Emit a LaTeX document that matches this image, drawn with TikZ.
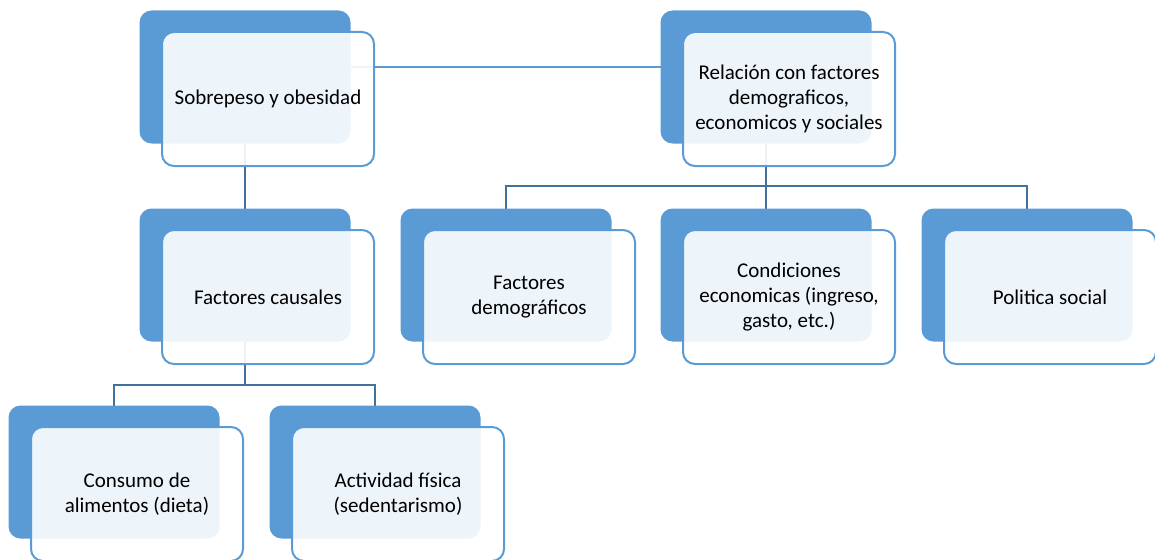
\documentclass[tikz,border=0pt]{standalone}
\usepackage{fontspec}
\setmainfont{Carlito}
\usetikzlibrary{positioning,backgrounds}
\definecolor{boxblue}{RGB}{91,155,213}
\definecolor{linkblue}{RGB}{65,113,156}
\begin{document}
\begin{tikzpicture}[x=1pt,y=-1pt,
  backbox/.style={rectangle,rounded corners=12pt,fill=boxblue,
    minimum width=211pt,minimum height=133pt,inner sep=0pt,outer sep=0pt},
  frontbox/.style={rectangle,rounded corners=12pt,draw=boxblue,line width=2pt,
    fill=white,fill opacity=0.9,text opacity=1,align=center,
    font=\fontsize{21}{25}\selectfont,
    minimum width=212pt,minimum height=134pt,inner sep=0pt,outer sep=0pt},
  link/.style={draw=linkblue,line width=2pt},
  toplink/.style={draw=boxblue,line width=1.5pt}]
\pgfmathsetmacro{\dx}{23}
\pgfmathsetmacro{\dy}{22}
\clip (0,0) rectangle (1155,559);
%
\node[backbox](sob) at (245,77){};
\node[backbox](rel) at (766,77){};
\node[backbox](cau) at (245,275){};
\node[backbox](dem) at (506,275){};
\node[backbox](con) at (766,275){};
\node[backbox](pol) at (1027,275){};
\node[backbox](ali) at (114,472){};
\node[backbox](act) at (375,472){};
%
\coordinate(rj) at (766,186);
\coordinate(cj) at (245,385);
%
\begin{scope}[on background layer]
\draw[toplink]([yshift=10pt]sob.east)--([yshift=10pt]rel.west);
\draw[link](sob.south)--(cau.north);
\draw[link](rel.south)--(con.north);
\draw[link](dem.north)|-(rj)-|(pol.north);
\draw[link](cau.south)--(cj);
\draw[link](ali.north)|-(cj)-|(act.north);
\end{scope}
%
\node[frontbox](sobt) at ([shift={(\dx,\dy)}]sob){Sobrepeso y obesidad};
\node[frontbox](relt) at ([shift={(\dx,\dy)}]rel){Relación con factores\\demograficos,\\economicos y sociales};
\node[frontbox](caut) at ([shift={(\dx,\dy)}]cau){Factores causales};
\node[frontbox](demt) at ([shift={(\dx,\dy)}]dem){Factores\\demográficos};
\node[frontbox](cont) at ([shift={(\dx,\dy)}]con){Condiciones\\economicas (ingreso,\\gasto, etc.)};
\node[frontbox](polt) at ([shift={(\dx,\dy)}]pol){Politica social};
\node[frontbox](alit) at ([shift={(\dx,\dy)}]ali){Consumo de\\alimentos (dieta)};
\node[frontbox](actt) at ([shift={(\dx,\dy)}]act){Actividad física\\(sedentarismo)};
\end{tikzpicture}
\end{document}
